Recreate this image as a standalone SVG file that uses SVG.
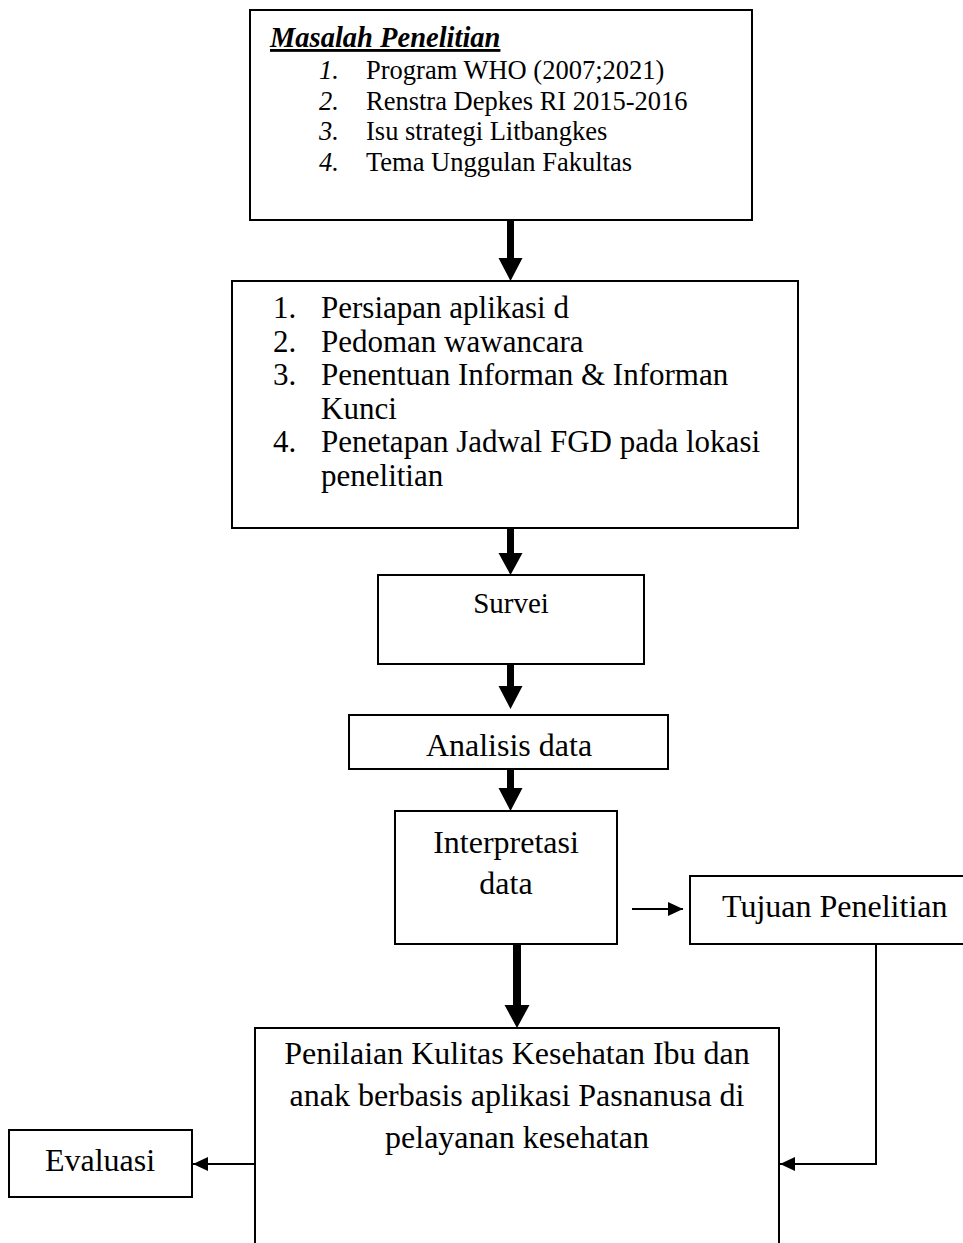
<svg xmlns="http://www.w3.org/2000/svg" width="963" height="1243" viewBox="0 0 963 1243">
<style>
.box{fill:#fff;stroke:#000;stroke-width:2}
text{font-family:"Liberation Serif","Times New Roman",serif;fill:#000}
.t1{font-size:26.5px}
.t2{font-size:31px}
.t3{font-size:32px}
.num{font-style:italic}
.thin{stroke:#000;stroke-width:2;fill:none}
.thick{fill:#000;stroke:none}
</style>
<defs>
<marker id="ah" viewBox="0 0 15 14" refX="15" refY="7" markerWidth="15" markerHeight="14" markerUnits="userSpaceOnUse" orient="auto">
<path d="M0,0 L15,7 L0,14 Z" fill="#000"/>
</marker>
</defs>
<rect width="963" height="1243" fill="#fff"/>
<g id="masalah">
<rect class="box" x="250" y="10" width="502" height="210"/>
<text x="270" y="47" style="font-size:28.5px;font-weight:bold;font-style:italic;text-decoration:underline">Masalah Penelitian</text>
<text class="t1 num" x="319" y="79">1.</text><text class="t1" x="366" y="79">Program WHO (2007;2021)</text>
<text class="t1 num" x="319" y="110">2.</text><text class="t1" x="366" y="110">Renstra Depkes RI 2015-2016</text>
<text class="t1 num" x="319" y="140">3.</text><text class="t1" x="366" y="140">Isu strategi Litbangkes</text>
<text class="t1 num" x="319" y="171">4.</text><text class="t1" x="366" y="171">Tema Unggulan Fakultas</text>
</g>
<g id="persiapan">
<rect class="box" x="232" y="281" width="566" height="247"/>
<text class="t2" x="273" y="318">1.</text><text class="t2" x="321" y="318">Persiapan aplikasi d</text>
<text class="t2" x="273" y="351.5">2.</text><text class="t2" x="321" y="351.5">Pedoman wawancara</text>
<text class="t2" x="273" y="385">3.</text><text class="t2" x="321" y="385">Penentuan Informan &amp; Informan</text>
<text class="t2" x="321" y="418.5">Kunci</text>
<text class="t2" x="273" y="452">4.</text><text class="t2" x="321" y="452">Penetapan Jadwal FGD pada lokasi</text>
<text class="t2" x="321" y="485.5">penelitian</text>
</g>
<g id="survei">
<rect class="box" x="378" y="575" width="266" height="89"/>
<text x="511" y="613" text-anchor="middle" style="font-size:29px">Survei</text>
</g>
<g id="analisis">
<rect class="box" x="349" y="715" width="319" height="54"/>
<text class="t3" x="509" y="756" text-anchor="middle">Analisis data</text>
</g>
<g id="interpretasi">
<rect class="box" x="395" y="811" width="222" height="133"/>
<text class="t3" x="506" y="853" text-anchor="middle">Interpretasi</text>
<text class="t3" x="506" y="894" text-anchor="middle">data</text>
</g>
<g id="tujuan">
<rect class="box" x="690" y="876" width="290" height="68"/>
<text class="t3" x="722" y="917">Tujuan Penelitian</text>
</g>
<g id="penilaian">
<rect class="box" x="255" y="1028" width="524" height="240"/>
<text class="t3" x="517" y="1064" text-anchor="middle">Penilaian Kulitas Kesehatan Ibu dan</text>
<text class="t3" x="517" y="1106" text-anchor="middle">anak berbasis aplikasi Pasnanusa di</text>
<text class="t3" x="517" y="1148" text-anchor="middle">pelayanan kesehatan</text>
</g>
<g id="evaluasi">
<rect class="box" x="9" y="1130" width="183" height="67"/>
<text class="t3" x="100" y="1171" text-anchor="middle">Evaluasi</text>
</g>
<g id="connectors">
<path class="thick" d="M507,220 H514 V258 H522.5 L510.5,281 L498.5,258 H507 Z"/>
<path class="thick" d="M507,528 H514 V553 H522.5 L510.5,575 L498.5,553 H507 Z"/>
<path class="thick" d="M507,664 H514 V686 H522.5 L510.5,709 L498.5,686 H507 Z"/>
<path class="thick" d="M507,769 H514 V788 H522.5 L510.5,811 L498.5,788 H507 Z"/>
<path class="thick" d="M513,944 H521 V1005 H529.5 L517,1028 L504.5,1005 H513 Z"/>
<line class="thin" x1="632" y1="909" x2="683" y2="909" marker-end="url(#ah)"/>
<polyline class="thin" points="876,944 876,1164 780,1164" marker-end="url(#ah)"/>
<line class="thin" x1="255" y1="1164" x2="193" y2="1164" marker-end="url(#ah)"/>
</g>
</svg>
